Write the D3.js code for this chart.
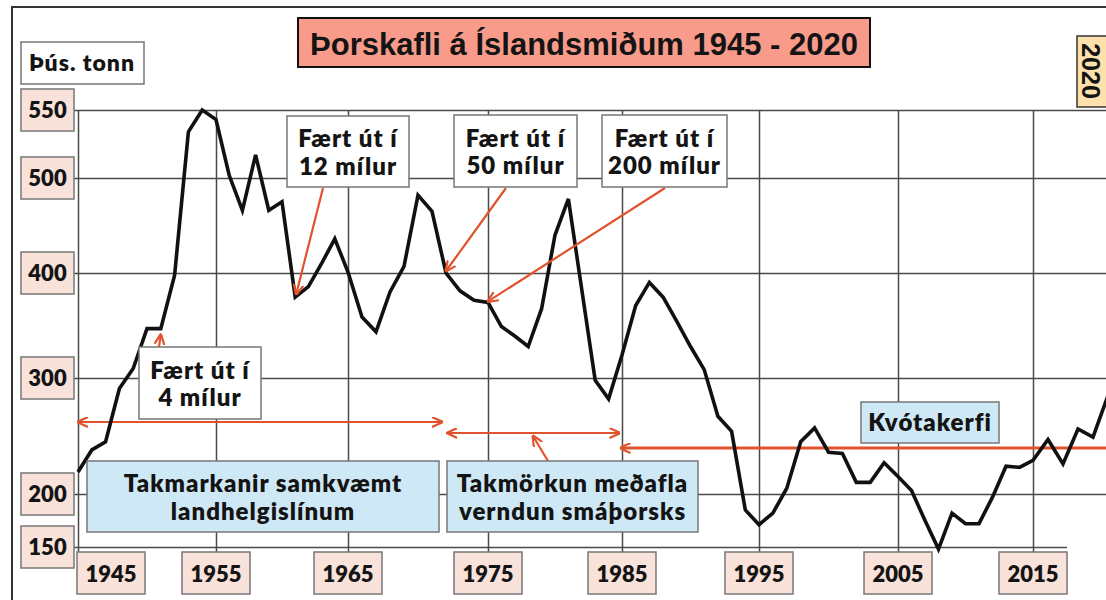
<!DOCTYPE html>
<meta charset="utf-8">
<title>Þorskafli á Íslandsmiðum 1945 - 2020</title>
<script src="https://cdn.jsdelivr.net/npm/d3@7"></script>
<style>
  body { margin: 0; background: #fff; }
  .gill { font-family: Lato, "Open Sans", sans-serif; font-weight: 800; fill: #141414; }
  .note { letter-spacing: 1px; }
  .helv { font-family: "Liberation Sans", Arial, sans-serif; font-weight: 700; fill: #141414; }
  .grid line { stroke: #4a4a4a; stroke-width: 1.5; }
  .grid path { display: none; }
</style>
<div id="chart"></div>
<script>
  // cod catch, thousand tonnes
  var years = [1945, 1946, 1947, 1948, 1949, 1950, 1951, 1952, 1953, 1954,
    1955, 1956, 1957, 1958, 1959, 1960, 1961, 1962, 1963, 1964,
    1965, 1966, 1967, 1968, 1969, 1970, 1971, 1972, 1973, 1974,
    1975, 1976, 1977, 1978, 1979, 1980, 1981, 1982, 1983, 1984,
    1985, 1986, 1987, 1988, 1989, 1990, 1991, 1992, 1993, 1994,
    1995, 1996, 1997, 1998, 1999, 2000, 2001, 2002, 2003, 2004,
    2005, 2006, 2007, 2008, 2009, 2010, 2011, 2012, 2013, 2014,
    2015, 2016, 2017, 2018, 2019, 2020];
  var catchKt = [219, 238, 245, 291, 309, 347, 347, 398, 534, 550,
    543, 502, 466, 517, 466, 475, 377, 387, 410, 436,
    401, 358, 344, 382, 407, 482, 465, 400, 383, 374,
    372, 349, 340, 330, 366, 440, 478, 384, 298, 282,
    322, 369, 391, 377, 354, 330, 308, 267, 254, 185,
    171, 182, 205, 245, 257, 236, 235, 210, 210, 227,
    215, 203, 175, 148, 182, 172, 172, 197, 224, 223,
    229, 247, 226, 256, 249, 285];

  var yTicks = [150, 200, 300, 400, 500, 550];
  var xTicks = [1945, 1955, 1965, 1975, 1985, 1995, 2005, 2015];

  var W = 1106, H = 600;
  var red = "#e0532d";

  var svg = d3.select("#chart").append("svg")
    .attr("width", W).attr("height", H);

  // the original axis is not evenly spaced, so piecewise scales
  var x = d3.scaleLinear()
    .domain([1945, 1955, 1965, 1975, 1985, 1995, 2005, 2015, 2020])
    .range([78, 216, 348, 488, 622, 759, 898, 1033, 1108]);
  var y = d3.scaleLinear()
    .domain(yTicks)
    .range([547, 494, 378, 273, 178, 110]);

  // outer frame
  svg.append("path")
    .attr("d", "M12," + H + "V7H" + W)
    .attr("fill", "none").attr("stroke", "#333").attr("stroke-width", 2);

  // arrow heads
  var defs = svg.append("defs");
  defs.append("marker")
    .attr("id", "head")
    .attr("viewBox", "0 0 10 10")
    .attr("refX", 9).attr("refY", 5)
    .attr("markerWidth", 11).attr("markerHeight", 11)
    .attr("markerUnits", "userSpaceOnUse")
    .attr("orient", "auto-start-reverse")
    .append("path")
    .attr("d", "M0,0.5 L10,5 L0,9.5")
    .attr("fill", "none").attr("stroke", red).attr("stroke-width", 2);

  // grid
  svg.append("g")
    .attr("class", "grid")
    .attr("transform", "translate(74,0)")
    .call(d3.axisRight(y).tickValues(yTicks).tickSize(W - 74).tickFormat(""))
    .selectAll(".tick line")
    .attr("x2", function (d) { return d == 150 ? 1067 - 74 : W - 74; });

  svg.append("g")
    .attr("class", "grid")
    .attr("transform", "translate(0,556)")
    .call(d3.axisTop(x).tickValues(xTicks).tickSize(556 - 110).tickFormat(""));

  function box(g, x0, y0, x1, y1, fill, stroke, sw) {
    return g.append("rect")
      .attr("x", x0).attr("y", y0)
      .attr("width", x1 - x0).attr("height", y1 - y0)
      .attr("fill", fill).attr("stroke", stroke).attr("stroke-width", sw || 1.5);
  }

  // horizontal period arrows (behind the line)
  var spans = [
    { a: 1945, b: 1971.7, yy: 422, both: true },
    { a: 1972.1, b: 1984.8, yy: 433, both: true },
    { a: 1984.9, b: 2021, yy: 448, both: false }
  ];
  svg.append("g").selectAll("line")
    .data(spans)
    .enter().append("line")
    .attr("x1", function (d) { return d.both ? x(d.a) : W; })
    .attr("x2", function (d) { return d.both ? x(d.b) : x(d.a); })
    .attr("y1", function (d) { return d.yy; })
    .attr("y2", function (d) { return d.yy; })
    .attr("stroke", red)
    .attr("stroke-width", function (d) { return d.both ? 2.2 : 3; })
    .attr("marker-end", "url(#head)")
    .attr("marker-start", function (d) { return d.both ? "url(#head)" : null; });

  // the catch line
  var line = d3.line()
    .x(function (d, i) { return x(years[i]); })
    .y(function (d) { return y(d); });
  svg.append("path")
    .datum(catchKt)
    .attr("d", line)
    .attr("fill", "none")
    .attr("stroke", "#111")
    .attr("stroke-width", 3.6)
    .attr("stroke-linejoin", "miter");

  // y labels
  var yl = svg.append("g");
  yTicks.forEach(function (v) {
    box(yl, 21, y(v) - 21, 74, y(v) + 21, "#f9e2d9", "#777");
    yl.append("text").attr("class", "gill")
      .attr("x", 47.5).attr("y", y(v) + 8)
      .attr("text-anchor", "middle").attr("font-size", 22)
      .text(v);
  });

  // x labels (first one sits inside the plot edge)
  var xl = svg.append("g");
  xTicks.forEach(function (v, i) {
    var cx = i == 0 ? x(v) + 33 : x(v);
    box(xl, cx - 34, 552, cx + 34, 594, "#f9e2d9", "#777");
    xl.append("text").attr("class", "gill")
      .attr("x", cx).attr("y", 582)
      .attr("text-anchor", "middle").attr("font-size", 22)
      .text(v);
  });

  // unit box
  box(svg, 21, 42, 144, 84, "#fff", "#777");
  svg.append("text").attr("class", "gill note")
    .attr("x", 82).attr("y", 71)
    .attr("text-anchor", "middle").attr("font-size", 23)
    .text("Þús. tonn");

  // title
  box(svg, 298, 18, 870, 67, "#f99b8b", "#111", 2);
  svg.append("text").attr("class", "helv")
    .attr("x", 584).attr("y", 55)
    .attr("text-anchor", "middle").attr("font-size", 31)
    .text("Þorskafli á Íslandsmiðum 1945 - 2020");

  // 2020 tag on the right edge
  box(svg, 1077, 36, 1112, 107, "#fde1ad", "#333", 1.5);
  svg.append("text").attr("class", "helv")
    .attr("transform", "translate(1082,71) rotate(90)")
    .attr("text-anchor", "middle").attr("font-size", 25)
    .text("2020");

  // pointer arrows from notes to the line
  var pointers = [
    { fx: 159, fy: 347, year: 1951, val: 347, off: [0, 6] },
    { fx: 323, fy: 188, year: 1961, val: 377, off: [1, -3] },
    { fx: 506, fy: 188, year: 1972, val: 400, off: [0, -2] },
    { fx: 665, fy: 188, year: 1975, val: 372, off: [0, -1] },
    { fx: 548, fy: 461, year: 1978, val: 440, off: [0, 0] }
  ];
  svg.append("g").selectAll("line")
    .data(pointers)
    .enter().append("line")
    .attr("x1", function (d) { return d.fx; })
    .attr("y1", function (d) { return d.fy; })
    .attr("x2", function (d) { return d.year == 1978 ? 533 : x(d.year) + d.off[0]; })
    .attr("y2", function (d) { return d.year == 1978 ? 436 : y(d.val) + d.off[1]; })
    .attr("stroke", red).attr("stroke-width", 2.2)
    .attr("marker-end", "url(#head)");

  // notes
  var notes = [
    { lines: ["Fært út í", "12 mílur"], b: [287, 116, 409, 187], fill: "#fff" },
    { lines: ["Fært út í", "50 mílur"], b: [454, 115, 577, 187], fill: "#fff" },
    { lines: ["Fært út í", "200 mílur"], b: [602, 115, 727, 187], fill: "#fff" },
    { lines: ["Fært út í", "4 mílur"], b: [139, 347, 261, 419], fill: "#fff" },
    { lines: ["Takmarkanir samkvæmt", "landhelgislínum"], b: [87, 461, 439, 532], fill: "#cfe8f6" },
    { lines: ["Takmörkun meðafla", "verndun smáþorsks"], b: [447, 461, 698, 532], fill: "#cfe8f6" },
    { lines: ["Kvótakerfi"], b: [861, 402, 999, 443], fill: "#cfe8f6" }
  ];
  var ng = svg.append("g");
  notes.forEach(function (n) {
    var b = n.b;
    box(ng, b[0], b[1], b[2], b[3], n.fill, "#777");
    var cx = (b[0] + b[2]) / 2, cy = (b[1] + b[3]) / 2;
    n.lines.forEach(function (t, i) {
      var yy = n.lines.length == 1 ? cy + 8.5 : cy - 4.5 + i * 27.5;
      ng.append("text").attr("class", "gill note")
        .attr("x", cx).attr("y", yy)
        .attr("text-anchor", "middle").attr("font-size", 24)
        .text(t);
    });
  });
</script>
